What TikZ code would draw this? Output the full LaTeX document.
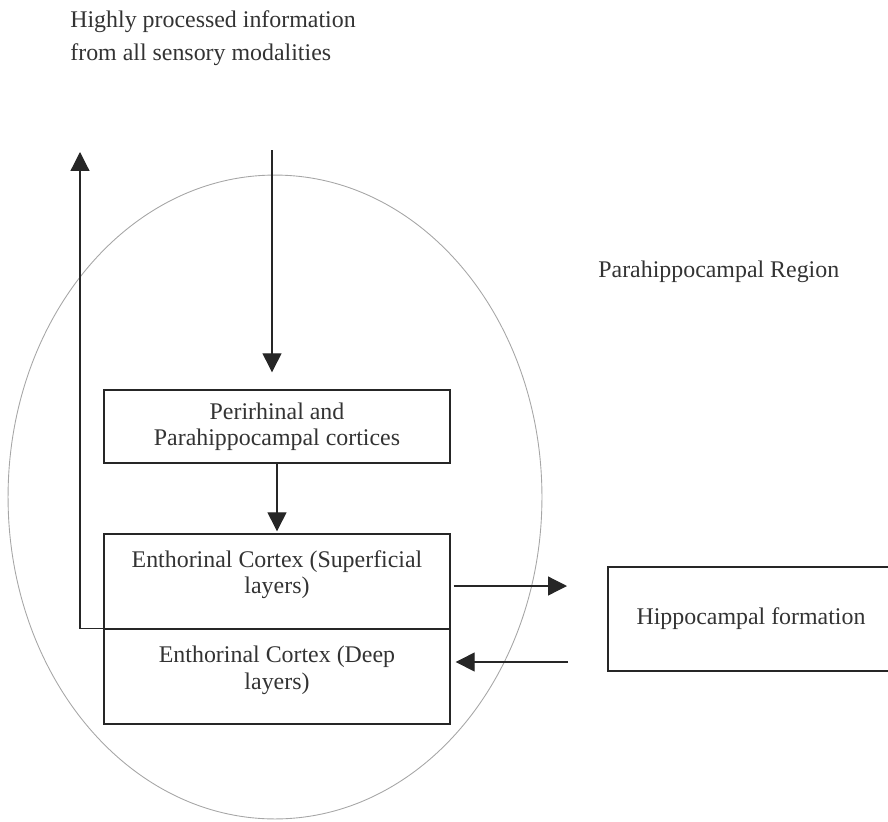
\documentclass[tikz,border=0pt]{standalone}
\usepackage{fontspec}
\setmainfont{Liberation Serif}
\usetikzlibrary{arrows.meta,positioning}

\tikzset{
  area/.style={draw=black!85, line width=0.8pt, minimum width=6.92cm},
  words/.style={inner sep=0pt, text=black!80, font=\fontsize{13.6}{15}\selectfont, align=center},
  flow/.style={draw=black!85, line width=0.7pt, -{Triangle[length=0.38cm,width=0.38cm]}},
}

\begin{document}
\begin{tikzpicture}[x=0.02cm, y=-0.02cm]
	%%%%% START %%%%%
	\useasboundingbox (0,0) rectangle (888,821);
	
	% region outline
	\draw[black!35, line width=0.5pt] (275,497) ellipse [x radius=5.34cm, y radius=6.44cm];
	
	\node[words, anchor=base west] (info1) at (70,28) {Highly processed information};
	\node[words, anchor=base west] (info2) at (70,61) {from all sensory modalities};
	\node[words, anchor=base west] (region) at (598,277) {Parahippocampal Region};
	
	% boxes
	\node[area, words, minimum height=1.46cm] (peri) at (277,426.5) {Perirhinal and\\Parahippocampal cortices};
	\node[area, minimum height=1.9cm] (sup) at (277,581.5) {};
	\node[area, minimum height=1.9cm] (deep) at (277,676.5) {};
	\node[words, below=0.34cm of sup.north] (suptext) {Enthorinal Cortex (Superficial\\layers)};
	\node[words, below=0.35cm of deep.north] (deeptext) {Enthorinal Cortex (Deep\\layers)};
	\node[area, words, minimum width=5.72cm, minimum height=2.08cm] (hippo) at (751,619) {Hippocampal formation};
	
	% arrows
	\coordinate (intop) at (272,150);
	\draw[flow, shorten >=0.34cm] (intop) -- (intop |- peri.north);
	\draw[flow, shorten >=0.04cm] (peri.south) -- (sup.north);
	
	\coordinate (outend) at (567,586);
	\draw[flow, shorten <=0.06cm] (outend -| sup.east) -- (outend);
	\coordinate (backstart) at (568,662);
	\draw[flow, shorten >=0.1cm] (backstart) -- (backstart -| deep.east);
	
	\coordinate (uptop) at (80,152);
	\draw[flow] (deep.north west) -| (uptop);
	%%%%% END %%%%%
\end{tikzpicture}
\end{document}
